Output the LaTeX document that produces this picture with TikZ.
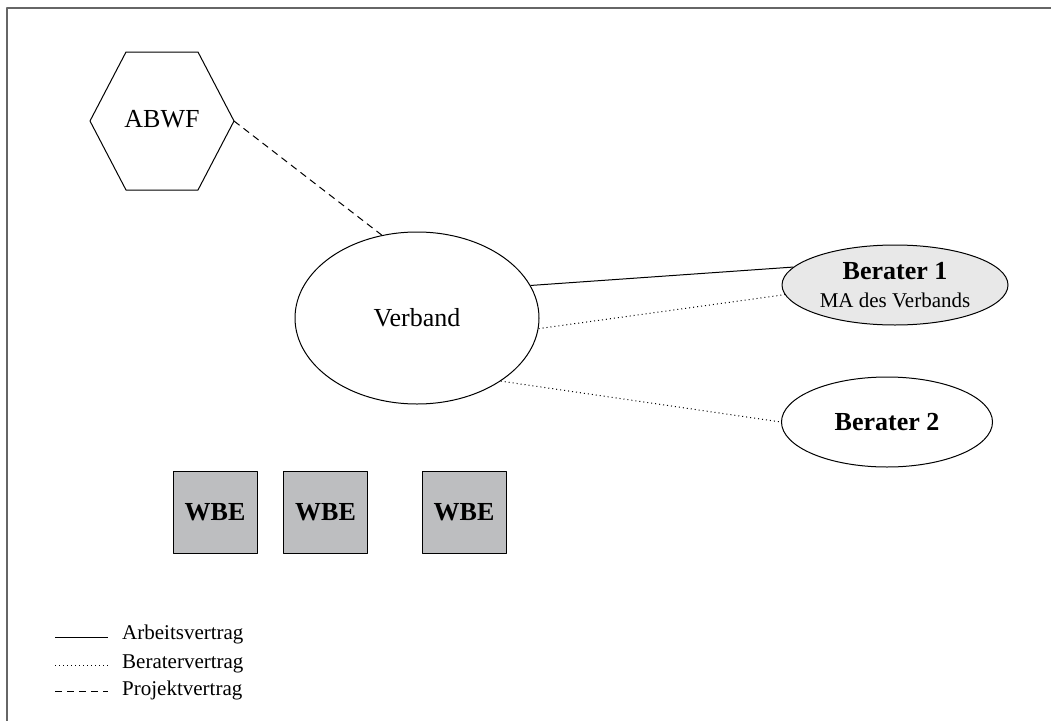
\documentclass[tikz,border=0pt]{standalone}
\usepackage{fontspec}
\setmainfont{Liberation Serif}
\usetikzlibrary{shapes.geometric}
\definecolor{wbegray}{HTML}{BDBEC0}
\definecolor{berlight}{HTML}{E8E8E8}
\newcommand\legendfont{\fontsize{21}{25}\selectfont}
\newcommand\bigfont{\fontsize{26}{31}\selectfont}
\tikzset{
	oval/.style={draw,ellipse,inner sep=0pt,line width=1pt},
	wbebox/.style={draw,fill=wbegray,minimum width=84pt,minimum height=82pt,inner sep=0pt,font=\bigfont\bfseries},
	arbeit/.style={line width=1pt},
	berat/.style={line width=1pt,dash pattern=on 1pt off 3pt},
	projekt/.style={line width=1pt,dash pattern=on 7pt off 5pt},
}
\begin{document}
\begin{tikzpicture}[x=1pt,y=-1pt, font=\bigfont, line join=round]
	\useasboundingbox (0,0) rectangle (1051,720);
	% Rahmen
	\draw[line width=2pt,black!60] (7,730)--(7,8)--(1060,8);
	% ABWF
	\draw[line width=1pt] (90,121)--(126,52)--(198,52)--(234,121)--(198,190)--(126,190)--cycle;
	\node (abwf) at (162,119) {ABWF};
	\coordinate (abwfR) at (234,121);
	% Ellipsen
	\node[oval,minimum width=244pt,minimum height=172pt] (verband) at (417,318) {Verband};
	\node[oval,fill=berlight,minimum width=226pt,minimum height=80pt,align=center] (ber1) at (895,285)
		{\textbf{Berater 1}\\[-3pt]{\legendfont MA des Verbands}};
	\node[oval,minimum width=211pt,minimum height=90pt,font=\bigfont\bfseries] (ber2) at (887,422) {Berater 2};
	% WBE
	\foreach \xx [count=\i] in {215,325.5,464}
		\node[wbebox] (wbe\i) at (\xx,512) {WBE};
	% Vertraege
	\draw[projekt] (abwfR)--(verband.113.5);
	\draw[arbeit] (verband.16)--(ber1.170);
	\draw[berat] (verband.-5.5)--(ber1.185);
	\draw[berat] (verband.-37)--(ber2.west);
	% Legende
	\foreach \yy/\ty/\sty/\txt in {637/634/arbeit/Arbeitsvertrag,665/664/berat/Beratervertrag,691/690/projekt/Projektvertrag}{
		\coordinate (l\sty) at (55,\yy);
		\coordinate (r\sty) at (108,\yy);
		\draw[\sty] (l\sty)--(r\sty);
		\node[anchor=west,inner sep=0pt,font=\legendfont] (t\sty) at (122,\ty) {\txt};
	}
\end{tikzpicture}
\end{document}
